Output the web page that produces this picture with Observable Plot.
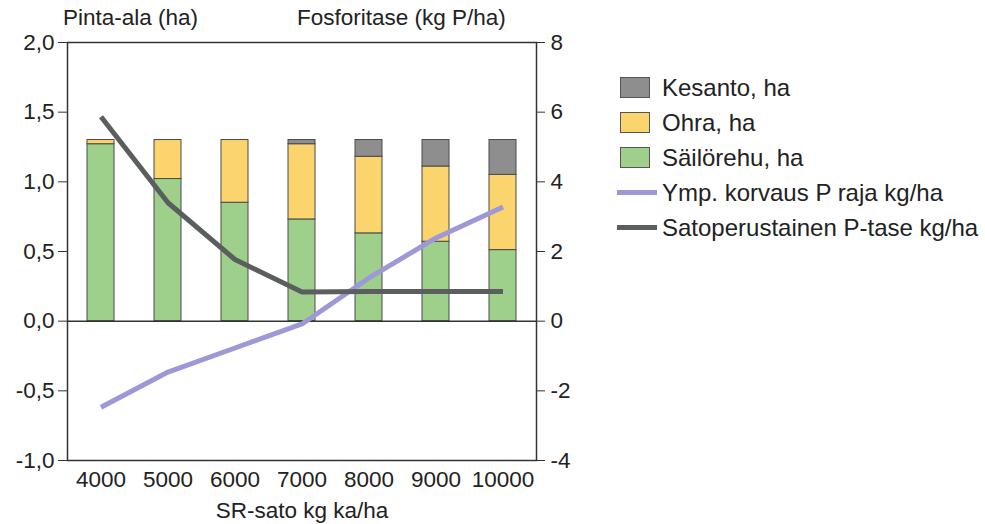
<!DOCTYPE html>
<html>
<head>
<meta charset="utf-8">
<script src="https://cdn.jsdelivr.net/npm/d3@7"></script>
<script src="https://cdn.jsdelivr.net/npm/@observablehq/plot@0.6"></script>
<style>
  html, body { margin: 0; padding: 0; background: #fff; }
  #wrap { position: relative; width: 985px; height: 524px; font-family: "Liberation Sans", Arial, sans-serif; color: #222; }
  .lbl { position: absolute; font-size: 22.5px; white-space: nowrap; }
  #legend { position: absolute; left: 617px; top: 70px; font-size: 24px; }
  .row { display: flex; align-items: center; height: 35px; }
  .sw { width: 30px; height: 21px; box-sizing: border-box; border: 1.5px solid #555; margin: 0 12px 0 3px; }
  .ln { width: 40px; height: 5px; margin: 0 5px 0 0; }
</style>
</head>
<body>
<div id="wrap">
  <div id="chart"></div>
  <div class="lbl" style="left:63px; top:5px;">Pinta-ala (ha)</div>
  <div class="lbl" style="left:297px; top:5px;">Fosforitase (kg P/ha)</div>
  <div id="legend"></div>
</div>
<script>
const sato = ["4000", "5000", "6000", "7000", "8000", "9000", "10000"];
const sailorehu = [1.27, 1.02, 0.85, 0.73, 0.63, 0.57, 0.51];
const ohra = [0.03, 0.28, 0.45, 0.54, 0.55, 0.54, 0.54];
const kesanto = [0.00, 0.00, 0.00, 0.03, 0.12, 0.19, 0.25];
const ympKorvaus = [-2.47, -1.46, -0.77, -0.08, 1.24, 2.39, 3.28];
const satoTase = [5.87, 3.4, 1.77, 0.84, 0.85, 0.85, 0.85];

const cropNames = ["Säilörehu, ha", "Ohra, ha", "Kesanto, ha"];
const cropColors = ["#9fd08b", "#fbd46e", "#8e8e8e"];
const lineNames = ["Ymp. korvaus P raja kg/ha", "Satoperustainen P-tase kg/ha"];
const lineColors = ["#9d99d9", "#5b5e5f"];
const leftTicks = [-1, -0.5, 0, 0.5, 1, 1.5, 2];
const rightTicks = [-4, -2, 0, 2, 4, 6, 8];

const bars = [];
sato.forEach((s, i) => {
  bars.push({sato: s, crop: cropNames[0], value: sailorehu[i]});
  bars.push({sato: s, crop: cropNames[1], value: ohra[i]});
  bars.push({sato: s, crop: cropNames[2], value: kesanto[i]});
});
const lines = [];
sato.forEach((s, i) => lines.push({sato: s, series: lineNames[0], p: ympKorvaus[i]}));
sato.forEach((s, i) => lines.push({sato: s, series: lineNames[1], p: satoTase[i]}));

const ratio = 4; // right axis units per left axis unit
const fmt = d => d.toFixed(1).replace(".", ",");

const chart = Plot.plot({
  width: 985,
  height: 524,
  marginLeft: 67,
  marginRight: 449,
  marginTop: 42,
  marginBottom: 64,
  style: {fontFamily: "'Liberation Sans', Arial, sans-serif", fontSize: "22.5px", color: "#222", background: "transparent"},
  x: {type: "band", domain: sato, paddingInner: 0.6, paddingOuter: 0.3},
  y: {domain: [-1, 2]},
  color: {domain: [...cropNames, ...lineNames], range: [...cropColors, ...lineColors]},
  marks: [
    Plot.barY(bars, {x: "sato", y: "value", fill: "crop", stroke: "#4a4a4a", strokeWidth: 1}),
    Plot.ruleY([0], {stroke: "#333", strokeWidth: 1.5}),
    Plot.frame({stroke: "#333", strokeWidth: 1.5}),
    Plot.line(lines, {x: "sato", y: d => d.p / ratio, z: "series", stroke: "series", strokeWidth: 5, strokeLinejoin: "miter", strokeLinecap: "butt"}),
    Plot.axisY({anchor: "left", ticks: leftTicks, tickFormat: fmt, tickSize: 9, tickPadding: 4, label: null, stroke: "#333"}),
    Plot.axisY({anchor: "right", ticks: rightTicks.map(v => v / ratio), tickFormat: d => String(Math.round(d * ratio)), tickSize: 8, tickPadding: 6, label: null, stroke: "#333"}),
    Plot.axisX({anchor: "bottom", tickSize: 0, tickPadding: 11, label: null}),
    Plot.text(["SR-sato kg ka/ha"], {frameAnchor: "bottom", dy: 50, lineAnchor: "middle", fontSize: 22.5, fill: "#222"})
  ]
});
document.getElementById("chart").appendChild(chart);

const legend = document.getElementById("legend");
const items = [
  {name: cropNames[2], color: cropColors[2], type: "sw"},
  {name: cropNames[1], color: cropColors[1], type: "sw"},
  {name: cropNames[0], color: cropColors[0], type: "sw"},
  {name: lineNames[0], color: lineColors[0], type: "ln"},
  {name: lineNames[1], color: lineColors[1], type: "ln"}
];
for (const it of items) {
  const row = document.createElement("div");
  row.className = "row";
  const sw = document.createElement("div");
  sw.className = it.type;
  sw.style.background = it.color;
  const t = document.createElement("span");
  t.textContent = it.name;
  row.appendChild(sw);
  row.appendChild(t);
  legend.appendChild(row);
}
</script>
</body>
</html>
